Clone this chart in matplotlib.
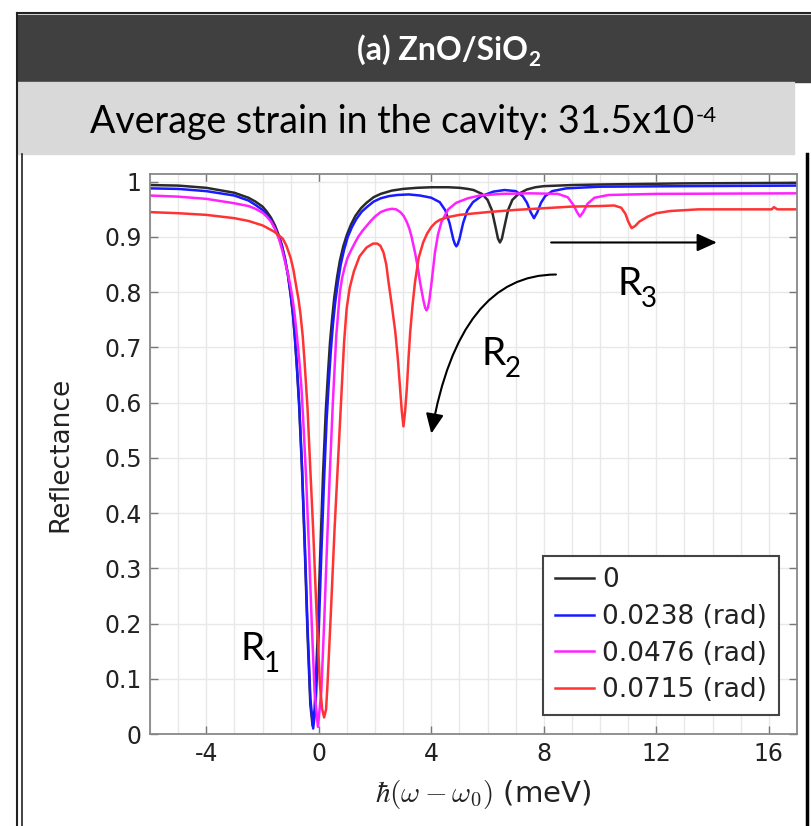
import numpy as np
import matplotlib
matplotlib.use("Agg")
import matplotlib.pyplot as plt
from matplotlib.ticker import MultipleLocator, FuncFormatter
from matplotlib.patches import Rectangle
from matplotlib.lines import Line2D

plt.rcParams['axes.unicode_minus'] = False

# curve data, x in meV
x_0 = [-6, -5, -4, -3, -2.5, -2.25, -2, -1.85, -1.7, -1.55,
       -1.4, -1.3, -1.2, -1.1, -1.0, -0.92, -0.85, -0.78, -0.7, -0.6,
       -0.5, -0.4, -0.3, -0.22, -0.15, -0.05, 0.05, 0.15, 0.25, 0.33,
       0.4, 0.48, 0.55, 0.65, 0.75, 0.87, 1.0, 1.15, 1.3, 1.5,
       1.7, 1.95, 2.2, 2.6, 3.0, 3.5, 4.0, 4.6, 5.0, 5.3,
       5.5, 5.8, 6.0, 6.15, 6.3, 6.37, 6.44, 6.51, 6.58, 6.73,
       6.88, 7.1, 7.4, 7.7, 8.0, 9, 10, 13, 17]
r_0 = [0.994, 0.993, 0.989, 0.98, 0.971, 0.964, 0.955, 0.946, 0.935, 0.92,
       0.9, 0.883, 0.86, 0.832, 0.795, 0.76, 0.717, 0.665, 0.596, 0.482,
       0.339, 0.181, 0.053, 0.015, 0.044, 0.165, 0.323, 0.469, 0.586, 0.655,
       0.71, 0.755, 0.79, 0.827, 0.857, 0.883, 0.904, 0.923, 0.938, 0.952,
       0.962, 0.972, 0.978, 0.984, 0.987, 0.989, 0.99, 0.99, 0.989, 0.987,
       0.985, 0.978, 0.967, 0.949, 0.914, 0.897, 0.89, 0.897, 0.914, 0.949,
       0.967, 0.978, 0.986, 0.99, 0.992, 0.994, 0.995, 0.997, 0.998]

x_1 = [-6, -5, -4, -3, -2.5, -2.25, -2, -1.85, -1.7, -1.55,
       -1.4, -1.3, -1.2, -1.1, -1.0, -0.92, -0.85, -0.78, -0.7, -0.6,
       -0.5, -0.4, -0.3, -0.2, -0.12, -0.02, 0.08, 0.18, 0.28, 0.36,
       0.43, 0.5, 0.58, 0.68, 0.78, 0.9, 1.03, 1.18, 1.33, 1.53,
       1.73, 1.95, 2.2, 2.5, 2.8, 3.2, 3.6, 4.0, 4.3, 4.5,
       4.65, 4.78, 4.84, 4.89, 4.94, 5.0, 5.13, 5.28, 5.48, 5.78,
       6.2, 6.6, 7.0, 7.25, 7.4, 7.53, 7.65, 7.77, 7.9, 8.05,
       8.3, 8.8, 10, 13, 17]
r_1 = [0.988, 0.987, 0.983, 0.975, 0.966, 0.958, 0.949, 0.94, 0.93, 0.915,
       0.897, 0.881, 0.86, 0.833, 0.797, 0.762, 0.72, 0.668, 0.602, 0.49,
       0.35, 0.195, 0.065, 0.01, 0.045, 0.16, 0.31, 0.45, 0.57, 0.64,
       0.695, 0.74, 0.78, 0.818, 0.85, 0.877, 0.9, 0.918, 0.932, 0.946,
       0.955, 0.964, 0.97, 0.974, 0.976, 0.977, 0.975, 0.971, 0.963, 0.948,
       0.925, 0.896, 0.887, 0.883, 0.887, 0.896, 0.925, 0.948, 0.963, 0.974,
       0.982, 0.985, 0.983, 0.974, 0.962, 0.945, 0.934, 0.945, 0.962, 0.974,
       0.983, 0.988, 0.991, 0.992, 0.993]

x_2 = [-6, -5, -4, -3, -2.5, -2.25, -2, -1.85, -1.7, -1.55,
       -1.4, -1.3, -1.2, -1.1, -1.0, -0.92, -0.85, -0.78, -0.7, -0.62,
       -0.55, -0.45, -0.35, -0.25, -0.15, -0.03, 0.09, 0.19, 0.29, 0.39,
       0.5, 0.62, 0.75, 0.83, 0.92, 1.02, 1.14, 1.27, 1.4, 1.55,
       1.7, 1.85, 2.0, 2.2, 2.4, 2.6, 2.75, 2.9, 3.02, 3.13,
       3.22, 3.3, 3.42, 3.52, 3.6, 3.72, 3.78, 3.83, 3.88, 3.93,
       4.01, 4.07, 4.13, 4.24, 4.36, 4.6, 4.89, 5.3, 5.71, 6.5,
       7.5, 8.5, 8.85, 9.05, 9.18, 9.28, 9.4, 9.55, 9.8, 10.3,
       12, 17]
r_2 = [0.975, 0.973, 0.969, 0.961, 0.956, 0.951, 0.944, 0.937, 0.928, 0.914,
       0.894, 0.876, 0.855, 0.834, 0.809, 0.784, 0.756, 0.722, 0.68, 0.63,
       0.566, 0.463, 0.338, 0.2, 0.077, 0.013, 0.077, 0.2, 0.338, 0.47,
       0.6, 0.72, 0.8, 0.826, 0.845, 0.862, 0.875, 0.888, 0.9, 0.911,
       0.92, 0.929, 0.937, 0.945, 0.949, 0.951, 0.95, 0.945, 0.938, 0.927,
       0.915, 0.9, 0.872, 0.845, 0.818, 0.785, 0.772, 0.767, 0.772, 0.785,
       0.818, 0.845, 0.872, 0.905, 0.927, 0.95, 0.962, 0.97, 0.975, 0.978,
       0.979, 0.978, 0.972, 0.958, 0.945, 0.937, 0.945, 0.96, 0.971, 0.976,
       0.978, 0.979]

x_3 = [-6, -5, -4, -3, -2.5, -2, -1.6, -1.4, -1.28, -1.15,
       -1.0, -0.9, -0.8, -0.72, -0.65, -0.57, -0.5, -0.4, -0.32, -0.2,
       -0.08, 0.04, 0.12, 0.19, 0.26, 0.31, 0.43, 0.56, 0.69, 0.79,
       0.9, 0.99, 1.1, 1.25, 1.45, 1.7, 1.93, 2.08, 2.19, 2.3,
       2.4, 2.48, 2.6, 2.72, 2.81, 2.89, 2.95, 3.01, 3.07, 3.13,
       3.19, 3.25, 3.33, 3.42, 3.55, 3.71, 3.85, 4.0, 4.15, 4.3,
       4.6, 5, 6, 7, 8, 9, 10, 10.5, 10.75, 10.9,
       11.0, 11.12, 11.25, 11.4, 11.7, 12.0, 12.5, 13.5, 16.1, 16.18,
       16.3, 17]
r_3 = [0.945, 0.943, 0.94, 0.934, 0.929, 0.921, 0.91, 0.902, 0.897, 0.884,
       0.862, 0.84, 0.81, 0.787, 0.76, 0.72, 0.67, 0.59, 0.5, 0.37,
       0.22, 0.09, 0.045, 0.03, 0.045, 0.09, 0.22, 0.37, 0.5, 0.6,
       0.71, 0.77, 0.808, 0.838, 0.865, 0.881, 0.888, 0.888, 0.884, 0.872,
       0.85, 0.818, 0.775, 0.728, 0.68, 0.626, 0.585, 0.557, 0.585, 0.626,
       0.68, 0.728, 0.775, 0.818, 0.862, 0.89, 0.906, 0.918, 0.926, 0.931,
       0.936, 0.94, 0.945, 0.949, 0.952, 0.955, 0.956, 0.957, 0.953, 0.942,
       0.928, 0.916, 0.92, 0.928, 0.937, 0.943, 0.947, 0.95, 0.95, 0.954,
       0.95, 0.95]

labels = ["0", "0.0238 (rad)", "0.0476 (rad)", "0.0715 (rad)"]
colors = ["#2a2a2a", "#1a1aff", "#ff22ff", "#ff3333"]

W, H = 811, 826
def fx(px):
    return px / W
def fy(py):
    return 1 - py / H

fig = plt.figure(figsize=(W / 100, H / 100), dpi=100)

# title bands
fig.add_artist(Rectangle((fx(17), fy(82)), fx(811) - fx(17), 67 / H,
                         transform=fig.transFigure, color="#404040", zorder=0))
fig.add_artist(Rectangle((fx(17), fy(154)), fx(794) - fx(17), 72 / H,
                         transform=fig.transFigure, color="#d9d9d9", zorder=0))
# frame lines
fig.add_artist(Line2D([fx(17), fx(811)], [fy(13), fy(13)], color="#222222", lw=1.5))
fig.add_artist(Line2D([fx(17), fx(17)], [fy(13), 0], color="#222222", lw=1.5))
fig.add_artist(Line2D([fx(22), fx(22)], [fy(154), 0], color="#222222", lw=1.2))
fig.add_artist(Line2D([fx(807), fx(807)], [fy(154), 0], color="black", lw=2.5))

t1 = fig.text(fx(357), fy(50), "(a) ZnO/SiO", color="white", fontsize=23,
              fontweight="bold", family="Lato", ha="left", va="center")
t2 = fig.text(fx(90), fy(133), "Average strain in the cavity: 31.5x10", color="black",
              fontsize=27, family="Lato", ha="left", va="baseline")

ax = fig.add_axes([fx(150), fy(734), fx(797) - fx(150), 560 / H])
ax.annotate("2", xy=(1, 0), xycoords=t1, xytext=(0.5, -3), textcoords="offset points",
            color="white", fontsize=15, fontweight="bold", family="Lato",
            ha="left", va="bottom")
ax.annotate("-4", xy=(1, 1), xycoords=t2, xytext=(1, -9), textcoords="offset points",
            color="black", fontsize=16, family="Lato", ha="left", va="center")

for xs, ys, c, lab in zip([x_0, x_1, x_2, x_3], [r_0, r_1, r_2, r_3], colors, labels):
    ax.plot(xs, ys, color=c, lw=1.8, label=lab)

ax.set_xlim(-6, 17)
ax.set_ylim(0, 1.014)
ax.xaxis.set_major_locator(MultipleLocator(4))
ax.xaxis.set_minor_locator(MultipleLocator(1))
ax.yaxis.set_major_locator(MultipleLocator(0.1))
ax.yaxis.set_major_formatter(FuncFormatter(lambda v, p: "%g" % round(v, 2)))
ax.grid(True, which="major", color="#e8e8e8", lw=1)
ax.grid(True, which="minor", axis="x", color="#e8e8e8", lw=1)
ax.set_axisbelow(True)
ax.tick_params(which="major", direction="in", length=6, width=1, color="#777777",
               top=True, right=True, labelsize=17, labelcolor="#222222", pad=6)
ax.tick_params(which="minor", length=0)
for s in ax.spines.values():
    s.set_color("#888888")
    s.set_linewidth(1.3)

ax.set_ylabel("Reflectance", fontsize=19, color="#222222")
ax.yaxis.set_label_coords(-0.118, 0.5)
ax.set_xlabel(r"$\hbar(\omega-\omega_0)$ (meV)", fontsize=21, color="#222222",
              math_fontfamily="cm")
ax.xaxis.set_label_coords(0.515, -0.078)

leg = ax.legend(loc="lower right", bbox_to_anchor=(0.972, 0.034), fontsize=19,
                handlelength=1.5, handletextpad=0.3, labelspacing=0.4,
                borderpad=0.45, borderaxespad=0, fancybox=False, framealpha=1)
leg.get_frame().set_edgecolor("#444444")
leg.get_frame().set_linewidth(1.5)
for t in leg.get_texts():
    t.set_color("#222222")

# annotations
ax.annotate("", xy=(14.15, 0.89), xytext=(8.26, 0.89),
            arrowprops=dict(arrowstyle="-|>,head_length=0.6,head_width=0.27",
                            color="black", lw=1.5, mutation_scale=20,
                            shrinkA=0, shrinkB=0))
ax.annotate("", xy=(4.0, 0.544), xytext=(8.43, 0.832),
            arrowprops=dict(arrowstyle="-|>,head_length=0.6,head_width=0.27",
                            color="black", lw=1.5, mutation_scale=20,
                            shrinkA=0, shrinkB=0,
                            connectionstyle="angle3,angleA=0,angleB=80"))

for rx, ry, sub in [(-2.78, 0.1335, "1"), (5.78, 0.668, "2"), (10.62, 0.795, "3")]:
    ax.text(rx, ry, "R", fontsize=28, family="Lato", ha="left", va="baseline")
    ax.annotate(sub, xy=(rx, ry), xytext=(16.5, -8.5), textcoords="offset points",
                fontsize=20, family="Lato", ha="left", va="baseline")

fig.savefig("out.png", dpi=100)
